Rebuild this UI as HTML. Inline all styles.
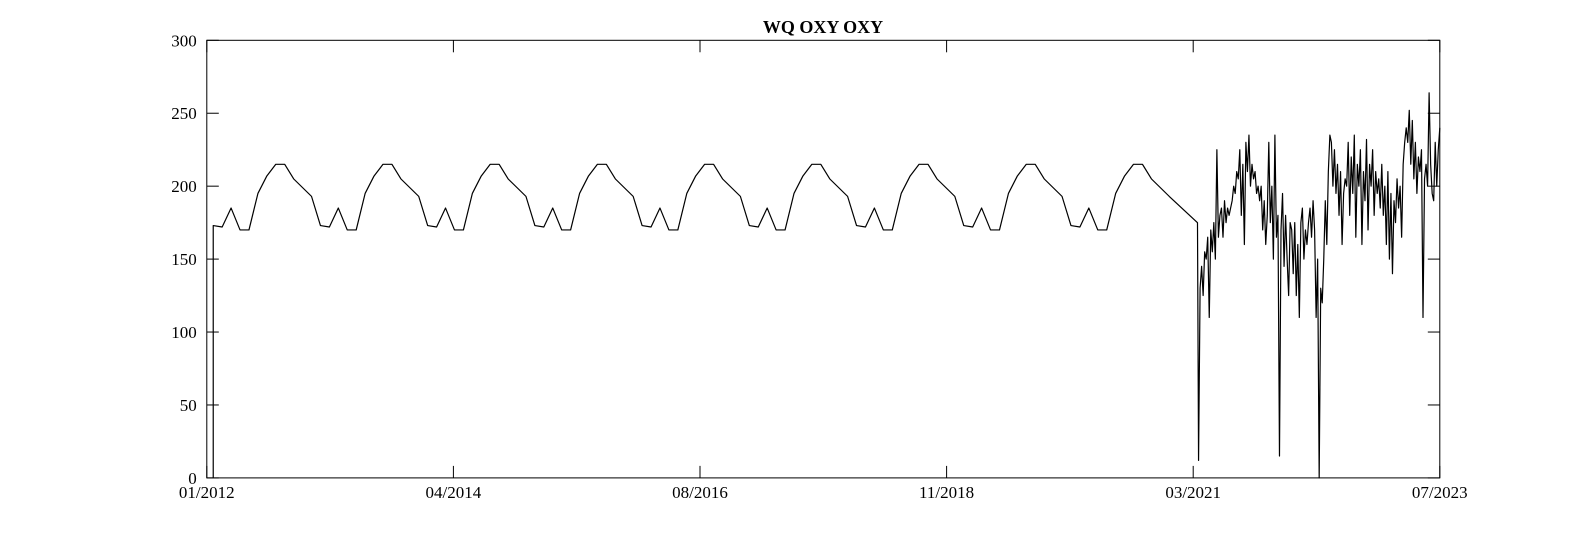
<!DOCTYPE html>
<html><head><meta charset="utf-8"><style>
html,body{margin:0;padding:0;background:#fff}
svg{display:block;font-family:"Liberation Serif",serif}
</style></head><body>
<svg id="chart" width="1591" height="537">
<rect x="0" y="0" width="1591" height="537" fill="#fff"/>
<text x="823" y="33" font-size="18" font-weight="bold" text-anchor="middle">WQ OXY OXY</text>
<g id="grid"></g>
<path id="line" fill="none" stroke="#000" stroke-width="1.2" stroke-linejoin="round"/>
<rect x="206.8" y="40.3" width="1233" height="437.6" fill="none" stroke="#000" stroke-width="1"/>
</svg>
<script>
const xTickLabels = ["01/2012","04/2014","08/2016","11/2018","03/2021","07/2023"];
const yTicks = [0,50,100,150,200,250,300];
const seasonalStart = 2012.06;
const seasonalValues = [
173,172,185,170,170,195,207,215,215,205,199,193,
173,172,185,170,170,195,207,215,215,205,199,193,
173,172,185,170,170,195,207,215,215,205,199,193,
173,172,185,170,170,195,207,215,215,205,199,193,
173,172,185,170,170,195,207,215,215,205,199,193,
173,172,185,170,170,195,207,215,215,205,199,193,
173,172,185,170,170,195,207,215,215,205,199,193,
173,172,185,170,170,195,207,215,215,205,199,193,
173,172,185,170,170,195,207,215,215,205,199,193];
const firstValue = 0;
const gapEnd = {t:2021.24, v:175};
const noisyStart = 2021.25;
const noisyEnd = 2023.5;
const noisyValues = [
12,130,145,125,155,
150,165,110,170,155,175,150,225,165,180,185,165,190,175,185,180,
185,190,200,195,210,205,225,180,215,160,230,210,235,200,215,205,210,195,200,190,
200,170,190,160,180,230,175,200,150,235,165,180,15,170,195,145,180,150,125,175,
170,140,175,125,160,110,175,185,150,170,160,175,185,165,190,170,110,150,0,130,
120,150,190,160,210,235,230,200,225,195,215,180,210,160,195,205,
200,230,180,220,195,235,165,215,200,225,160,210,190,232,170,215,200,225,180,210,195,205,185,
215,180,200,160,210,150,195,140,190,175,205,185,200,165,215,230,
240,230,252,215,245,205,230,195,220,210,225,110,205,215,200,264,215,195,190,230,200,225,240];

const X0=206.8, W=1233, Y0=477.9, H=437.6, T0=2012, T1=2023.5;
const xs = t => X0 + (t-T0)/(T1-T0)*W;
const ys = v => Y0 - v/300*H;
const NS="http://www.w3.org/2000/svg";
const g=document.getElementById('grid');
function add(tag,attrs,txt){const e=document.createElementNS(NS,tag);for(const k in attrs)e.setAttribute(k,attrs[k]);if(txt!==undefined)e.textContent=txt;g.appendChild(e);return e;}
xTickLabels.forEach((lab,i)=>{
  const x = X0 + i/(xTickLabels.length-1)*W;
  const t1=add('line',{x1:x,x2:x,y1:Y0,y2:Y0-12,stroke:'#000'});
  
  
  const t2=add('line',{x1:x,x2:x,y1:40.3,y2:52.3,stroke:'#000'});
  
  
  const tx=add('text',{x:x,y:498,'font-size':17,'text-anchor':'middle'},lab);
  
  
});
yTicks.forEach(v=>{
  const y=ys(v);
  const a=add('line',{x1:X0,x2:X0+12,y1:y,y2:y,stroke:'#000'});
  
  
  const b=add('line',{x1:X0+W,x2:X0+W-12,y1:y,y2:y,stroke:'#000'});
  
  
  const tx=add('text',{x:X0-10,y:y+6,'font-size':17,'text-anchor':'end'},v);
  
  
});
let pts=[[seasonalStart,firstValue]];
seasonalValues.forEach((v,i)=>pts.push([seasonalStart+i/12,v]));
pts.push([gapEnd.t,gapEnd.v]);
const step=(noisyEnd-noisyStart)/(noisyValues.length-1);
noisyValues.forEach((v,i)=>pts.push([noisyStart+i*step,v]));
document.getElementById('line').setAttribute('d',pts.map((p,i)=>(i?'L':'M')+xs(p[0]).toFixed(2)+','+ys(p[1]).toFixed(2)).join(''));
</script>
</body></html>
